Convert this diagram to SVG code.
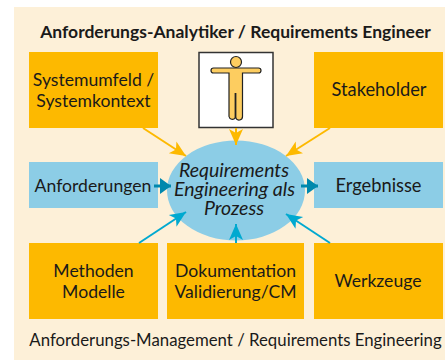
<svg xmlns="http://www.w3.org/2000/svg" width="445" height="360" viewBox="0 0 445 360">
<style>
text{font-family:Lato,"Liberation Sans",sans-serif;fill:#1a1a1a;text-anchor:middle;font-size:17.600px}
.w{font-size:18.300px}
.o{fill:#fdb900}.b{fill:#8ccde6}
.ya{stroke:#fdb900;stroke-width:2;fill:none}.ba{stroke:#00a9d0;stroke-width:2;fill:none}.ta{stroke:#0088ad;stroke-width:3;fill:none}
</style>
<defs>
<marker id="my" markerUnits="userSpaceOnUse" markerWidth="18" markerHeight="18" refX="16" refY="8" orient="auto"><path d="M0 1L16 8L0 15L4 8Z" fill="#fdb900"/></marker>
<marker id="mb" markerUnits="userSpaceOnUse" markerWidth="18" markerHeight="18" refX="16" refY="8" orient="auto"><path d="M0 1L16 8L0 15L4 8Z" fill="#00a9d0"/></marker>
<marker id="mt" markerUnits="userSpaceOnUse" markerWidth="18" markerHeight="18" refX="11" refY="8" orient="auto"><path d="M0 0L11 8L0 16Z" fill="#0088ad"/></marker>
</defs>
<rect x="14" y="7" width="431" height="353" fill="#fdf0d8"/>
<text id="title" x="235.500" y="38" style="font-weight:700;font-size:17.500px">Anforderungs-Analytiker / Requirements Engineer</text>
<g id="umfeld"><rect class="o" x="29" y="52" width="129" height="76"/><text x="93.500" y="86">Systemumfeld /</text><text x="93.500" y="107">Systemkontext</text></g>
<g id="person"><rect x="199" y="52.500" width="74" height="75" fill="#fff" stroke="#333" stroke-width="1.500"/>
<path d="M229 73H213.500a2.500 2.500 0 0 1 0-5H258.500a2.500 2.500 0 0 1 0 5H242.500V116.500a3.500 3.500 0 0 1-6.700 1.500h-.6a3.500 3.500 0 0 1-6.200-1.500Z" fill="#fdcd60" stroke="#222" stroke-width="1.200"/>
<circle cx="236" cy="62" r="5.500" fill="#fdcd60" stroke="#222" stroke-width="1.200"/><path d="M235.500 93V118" stroke="#222" stroke-width="1.800"/></g>
<g id="stakeholder"><rect class="o" x="314" y="52" width="129" height="76"/><text class="w" x="379" y="96">Stakeholder</text></g>
<g id="anforderungen"><rect class="b" x="29" y="162" width="129" height="46"/><text x="93" y="192">Anforderungen</text></g>
<g id="ergebnisse"><rect class="b" x="314" y="162" width="129" height="46"/><text class="w" x="378.500" y="192">Ergebnisse</text></g>
<g id="prozess"><ellipse class="b" cx="236" cy="190.500" rx="69" ry="50"/>
<g style="font-style:italic;font-size:19.500px"><text style="font-size:19.500px" x="234" y="177">Requirements</text><text style="font-size:19.500px" x="234.500" y="196">Engineering als</text><text style="font-size:19.500px" x="234" y="215">Prozess</text></g></g>
<g id="methoden"><rect class="o" x="29" y="243" width="129" height="76"/><text x="93.500" y="277">Methoden</text><text x="93.500" y="298">Modelle</text></g>
<g id="doku"><rect class="o" x="167" y="243" width="137" height="76"/><text x="235.500" y="277">Dokumentation</text><text x="235.500" y="298">Validierung/CM</text></g>
<g id="werkzeuge"><rect class="o" x="314" y="243" width="129" height="76"/><text x="378" y="287">Werkzeuge</text></g>
<text id="footer" x="235.500" y="346" style="font-size:16.800px">Anforderungs-Management / Requirements Engineering</text>
<g id="connectors">
<path class="ya" marker-end="url(#my)" d="M143 128L186 156"/>
<path class="ya" marker-end="url(#my)" d="M236 128V145"/>
<path class="ya" marker-end="url(#my)" d="M330 128L286 156"/>
<path class="ta" marker-end="url(#mt)" d="M154 186H171"/>
<path class="ta" marker-end="url(#mt)" d="M301 186H318"/>
<path class="ba" marker-end="url(#mb)" d="M139 243L186 212"/>
<path class="ba" marker-end="url(#mb)" d="M236 243V224"/>
<path class="ba" marker-end="url(#mb)" d="M330 243L286 214"/>
</g>
</svg>
